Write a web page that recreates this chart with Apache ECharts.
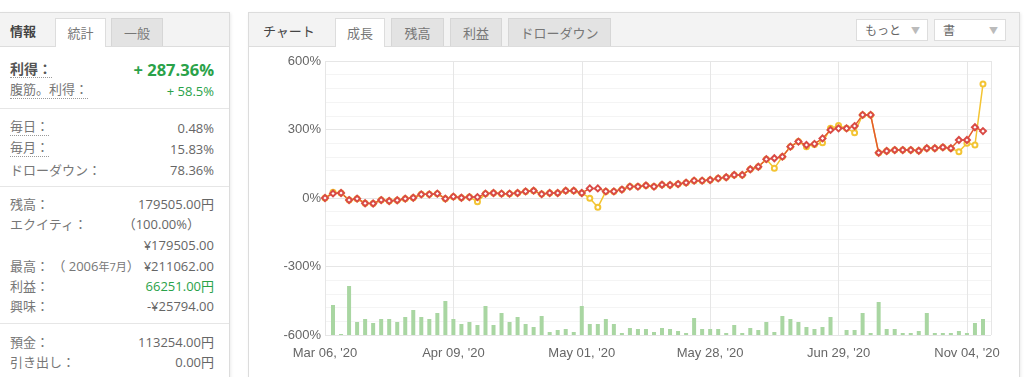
<!DOCTYPE html>
<html>
<head>
<meta charset="utf-8">
<script src="https://cdn.jsdelivr.net/npm/echarts@6/dist/echarts.min.js"></script>
<style>
  body { margin: 0; background: #fff; font-family: "Open Sans", "Noto Sans CJK JP", sans-serif; color: #666; }
  .panel { position: absolute; top: 12px; height: 380px; border: 1px solid #dcdcdc; box-shadow: 1px 1px 3px rgba(0,0,0,0.08); background: #fff; overflow: hidden; }
  .head { position: absolute; left: 0; top: 0; right: 0; height: 33px; background: #f3f3f3; border-bottom: 1px solid #ddd; }
  .title { position: absolute; top: 8px; font-size: 13px; color: #444; }
  .tab { position: absolute; top: 5px; height: 28px; line-height: 28px; text-align: center; font-size: 13px; color: #777; background: #e3e3e3; border: 1px solid #d6d6d6; border-bottom: none; box-sizing: border-box; }
  .tab.on { background: #fff; height: 29px; border-color: #ddd; }
  .drop { position: absolute; top: 6px; height: 22px; line-height: 21px; width: 72px; background: #fff; border: 1px solid #ddd; box-sizing: border-box; font-size: 12px; color: #666; padding-left: 8px; }
  .drop span { position: absolute; right: 7px; top: 0; font-size: 9px; color: #bbb; }
  .row { position: absolute; left: 10px; right: 15px; height: 20px; line-height: 20px; font-size: 13px; }
  .row .l { position: absolute; left: 0; color: #777; }
  .row .v { position: absolute; right: 0; color: #666; }
  .dot { border-bottom: 1px dotted #999; line-height: 17px; }
  .sep { position: absolute; left: 0; right: 0; height: 0; border-top: 1px solid #e6e6e6; }
  .green { color: #2aa249 !important; }
</style>
</head>
<body>

<div class="panel" style="left:-1px;width:229px;">
  <div class="head">
    <div class="title" style="left:10px;font-weight:bold;">情報</div>
    <div class="tab on" style="left:55px;width:51px;">統計</div>
    <div class="tab" style="left:111px;width:52px;">一般</div>
  </div>
  <div class="row" style="top:47px;"><span class="l dot" style="font-weight:bold;color:#555;font-size:14px;">利得：</span><span class="v green" style="font-weight:bold;font-size:16.5px;">+ 287.36%</span></div>
  <div class="row" style="top:68px;"><span class="l dot">腹筋。利得：</span><span class="v green">+ 58.5%</span></div>
  <div class="sep" style="top:95px;"></div>
  <div class="row" style="top:105px;"><span class="l dot">毎日：</span><span class="v">0.48%</span></div>
  <div class="row" style="top:126px;"><span class="l dot">毎月：</span><span class="v">15.83%</span></div>
  <div class="row" style="top:147px;"><span class="l">ドローダウン：</span><span class="v">78.36%</span></div>
  <div class="sep" style="top:173px;"></div>
  <div class="row" style="top:181px;"><span class="l">残高：</span><span class="v">179505.00円</span></div>
  <div class="row" style="top:201px;"><span class="l">エクイティ：</span><span class="v" style="right:14px;">（100.00%）</span></div>
  <div class="row" style="top:222px;"><span class="v">¥179505.00</span></div>
  <div class="row" style="top:243px;"><span class="l">最高：&nbsp;（ 2006<span style="font-size:11px">年7月</span>）</span><span class="v">¥211062.00</span></div>
  <div class="row" style="top:263px;"><span class="l">利益：</span><span class="v green">66251.00円</span></div>
  <div class="row" style="top:283px;"><span class="l">興味：</span><span class="v">-¥25794.00</span></div>
  <div class="sep" style="top:310px;"></div>
  <div class="row" style="top:319px;"><span class="l">預金：</span><span class="v">113254.00円</span></div>
  <div class="row" style="top:339px;"><span class="l">引き出し：</span><span class="v">0.00円</span></div>
</div>

<div class="panel" style="left:248px;width:770px;">
  <div class="head">
    <div class="title" style="left:14px;">チャート</div>
    <div class="tab on" style="left:86px;width:50px;">成長</div>
    <div class="tab" style="left:142px;width:53px;">残高</div>
    <div class="tab" style="left:201px;width:52px;">利益</div>
    <div class="tab" style="left:259px;width:103px;">ドローダウン</div>
    <div class="drop" style="left:607px;">もっと<span>▼</span></div>
    <div class="drop" style="left:685px;">書<span>▼</span></div>
  </div>
</div>

<div id="chart" style="position:absolute;left:249px;top:46px;width:768px;height:331px;"></div>

<script>
// growth in %, one value per trading point
var growth = [0, 20, 22, -9, -3, -23, -24, -9, -13, -10,
  -3, 1, 16, 16, 19, -3, 6, 1, 4, 4,
  19, 22, 19, 19, 22, 29, 32, 17, 22, 22,
  32, 32, 22, 42, 42, 29, 29, 37, 50, 50,
  55, 50, 58, 57, 61, 67, 76, 76, 79, 86,
  91, 101, 101, 126, 137, 170, 174, 181, 225, 247,
  232, 237, 261, 298, 305, 305, 315, 364, 364, 198,
  206, 210, 210, 210, 207, 218, 218, 222, 218, 254,
  254, 310, 293];

var equityGrowth = [0, 25, 22, -9, -3, -23, -24, -9, -13, -10,
  -3, 1, 16, 16, 19, -3, 6, 1, 4, -16,
  19, 22, 19, 19, 22, 29, 32, 17, 22, 22,
  32, 32, 22, -1, -41, 29, 29, 37, 50, 50,
  55, 50, 58, 57, 61, 67, 76, 76, 79, 86,
  91, 101, 101, 126, 137, 170, 130, 181, 225, 247,
  225, 234, 242, 305, 317, 305, 286, 364, 364, 198,
  206, 210, 210, 210, 207, 218, 218, 222, 218, 203,
  240, 232, 499];

var volume = [0, 30, 1, 49, 13, 16, 12, 16, 16, 13,
  18, 25, 18, 16, 22, 34, 16, 11, 13, 10,
  29, 10, 22, 13, 18, 11, 8, 19, 3, 5,
  6, 3, 29, 11, 11, 16, 11, 2, 7, 6,
  6, 3, 7, 6, 4, 2, 17, 6, 6, 6,
  2, 10, 2, 7, 5, 13, 3, 19, 16, 13,
  8, 6, 8, 18, 0, 5, 5, 22, 2, 33,
  6, 6, 2, 2, 4, 22, 2, 2, 2, 4,
  2, 12, 16];

var tickLabels = ["Mar 06, '20", "Apr 09, '20", "May 01, '20", "May 28, '20", "Jun 29, '20", "Nov 04, '20"];
var tickStep = 16;

function pairs(arr) {
  return arr.map(function (v, i) { return [i, v]; });
}

var chart = echarts.init(document.getElementById('chart'));
chart.setOption({
  animation: false,
  grid: { left: 76, top: 15, width: 666, height: 274 },
  xAxis: {
    type: 'value', min: 0, max: 83, interval: tickStep,
    axisLine: { show: false }, axisTick: { show: false },
    splitLine: { show: true, lineStyle: { color: '#e6e6e6' } },
    axisLabel: {
      color: '#666', fontSize: 13, fontFamily: 'Liberation Sans', margin: 12,
      formatter: function (v) { return v % tickStep === 0 ? (tickLabels[v / tickStep] || '') : ''; }
    }
  },
  yAxis: [{
    type: 'value', min: -600, max: 600, interval: 300,
    axisLine: { show: false }, axisTick: { show: false },
    axisLabel: { color: '#666', fontSize: 13, fontFamily: 'Liberation Sans', margin: 4, formatter: '{value}%' },
    splitLine: { lineStyle: { color: '#e6e6e6' } },
    minorTick: { show: false, splitNumber: 5 },
    minorSplitLine: { show: true, lineStyle: { color: '#f4f4f4' } }
  }, {
    type: 'value', min: 0, max: 274, show: false, splitLine: { show: false }
  }],
  series: [{
    type: 'bar', yAxisIndex: 1, barWidth: 4,
    itemStyle: { color: '#a9d6a2' },
    data: pairs(volume)
  }, {
    type: 'line', symbol: 'emptyCircle', symbolSize: 5,
    itemStyle: { color: '#f3c433' }, lineStyle: { color: '#f3c433', width: 1.5 },
    data: pairs(equityGrowth)
  }, {
    type: 'line', symbol: 'emptyDiamond', symbolSize: 6,
    itemStyle: { color: '#d94a45', borderWidth: 1.5 }, lineStyle: { color: '#e35a2e', width: 1.5 },
    data: pairs(growth)
  }]
});
</script>
</body>
</html>
